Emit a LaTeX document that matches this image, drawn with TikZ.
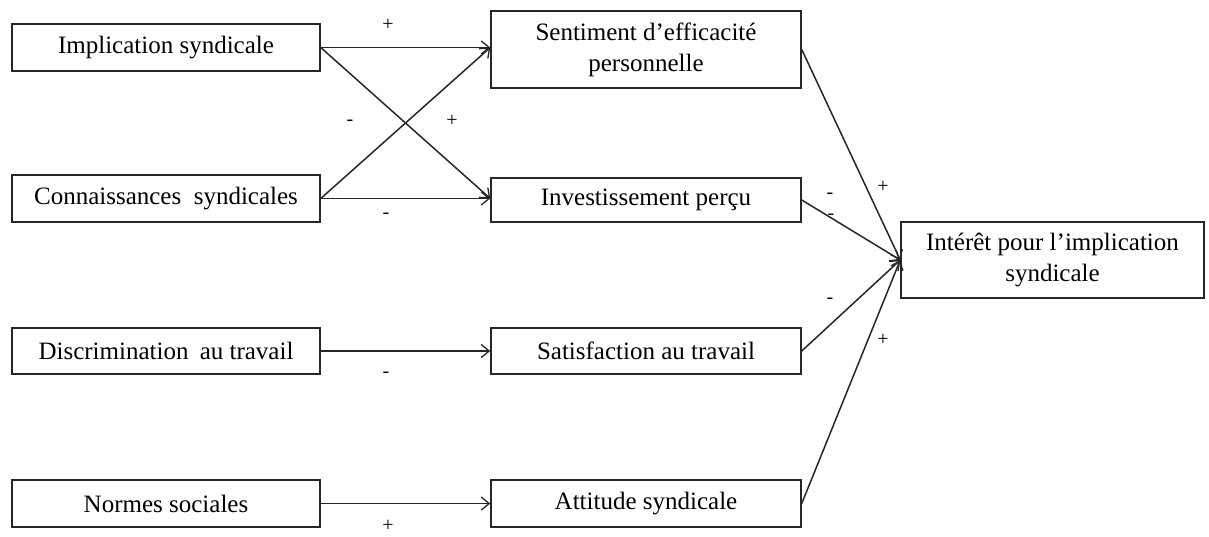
\documentclass[tikz,border=0pt]{standalone}
\usepackage{fontspec}
\setmainfont{Liberation Serif}
\usetikzlibrary{arrows.meta}
\begin{document}
\begin{tikzpicture}[x=1pt,y=-1pt,
  box/.style={draw=black!85,line width=1.5pt,rectangle,inner sep=2pt,align=center,
    font=\fontsize{25}{31}\selectfont,text=black},
  conn/.style={draw=black!85,line width=1.5pt,-{Straight Barb[length=8pt,width=13pt,line width=1.3pt]}},
  sign/.style={font=\fontsize{20}{22}\selectfont,inner sep=0pt}]
\useasboundingbox (0,0) rectangle (1209,536);
% left column
\node[box,minimum width=308pt,minimum height=47pt] (impl) at (166,47.5) {Implication syndicale};
\node[box,minimum width=308pt,minimum height=47pt] (conn) at (166,198.5) {Connaissances\hspace{0.25em} syndicales};
\node[box,minimum width=308pt,minimum height=46pt] (disc) at (166,351) {Discrimination\hspace{0.2em} au travail};
\node[box,minimum width=308pt,minimum height=47pt] (norm) at (166,503.5) {Normes sociales};
% middle column
\node[box,minimum width=310pt,minimum height=77pt] (sent) at (646,49.5) {Sentiment d’efficacité\\personnelle};
\node[box,minimum width=310pt,minimum height=44pt] (inv) at (646,200) {Investissement perçu};
\node[box,minimum width=310pt,minimum height=46pt] (sat) at (646,351) {Satisfaction au travail};
\node[box,minimum width=310pt,minimum height=47pt] (att) at (646,503.5) {Attitude syndicale};
% outcome
\node[box,minimum width=303pt,minimum height=76pt] (int) at (1052.5,260) {Intérêt pour l’implication\\syndicale};
% connectors
\draw[conn] (impl.east) -- (impl.east -| sent.west);
\draw[conn] (impl.east) -- (conn.east -| inv.west);
\draw[conn] (conn.east) -- (impl.east -| sent.west);
\draw[conn] (conn.east) -- (conn.east -| inv.west);
\draw[conn] (disc.east) -- (sat.west);
\draw[conn] (norm.east) -- (att.west);
\draw[conn] (sent.east) -- (int.west);
\draw[conn] (inv.east) -- (int.west);
\draw[conn] (sat.east) -- (int.west);
\draw[conn] (att.east) -- (int.west);
% signs
\node[sign] (s1) at (388,25) {+};
\node[sign] (s2) at (350,123) {-};
\node[sign] (s3) at (452,121) {+};
\node[sign] (s4) at (386,216) {-};
\node[sign] (s5) at (386,375) {-};
\node[sign] (s6) at (388,526) {+};
\node[sign] (s7) at (830,196) {-};
\node[sign] (s8) at (831,217) {-};
\node[sign] (s9) at (883,187) {+};
\node[sign] (s10) at (830,301) {-};
\node[sign] (s11) at (883,340) {+};
\end{tikzpicture}
\end{document}
